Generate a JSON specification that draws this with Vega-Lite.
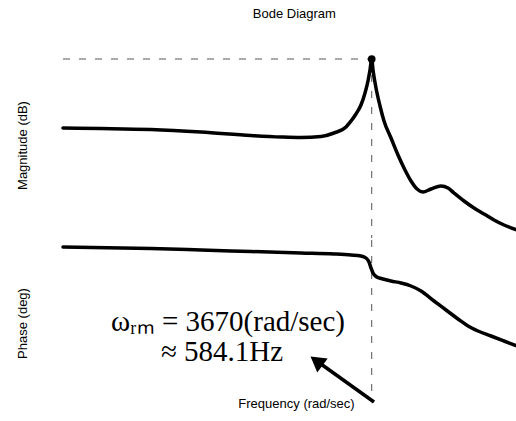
{
  "$schema": "https://vega.github.io/schema/vega-lite/v6.json",
  "padding": {"left": 16, "top": 8, "right": 0, "bottom": 6},
  "background": "white",
  "config": {
    "view": {"stroke": null},
    "font": "Liberation Sans",
    "axis": {"domain": false, "ticks": false, "labels": false, "grid": false, "titleFont": "Liberation Sans", "titleFontWeight": "normal", "titleFontSize": 13, "titleColor": "black"}
  },
  "title": {"text": "Bode Diagram", "anchor": "middle", "dx": 27, "fontSize": 13, "fontWeight": "normal", "font": "Liberation Sans", "color": "black", "offset": 17},
  "datasets": {
    "mag": [
      {"f": 100, "db": 0}, {"f": 155.8, "db": -0.25}, {"f": 279, "db": -0.75}, {"f": 500.6, "db": -2},
      {"f": 897, "db": -3.75}, {"f": 1273, "db": -4.5}, {"f": 1608, "db": -4.75}, {"f": 2031, "db": -4.25},
      {"f": 2363, "db": -2.5}, {"f": 2719, "db": 0.5}, {"f": 2882, "db": 3.5}, {"f": 3055, "db": 7},
      {"f": 3237, "db": 11.5}, {"f": 3394, "db": 17.5}, {"f": 3514, "db": 23.5}, {"f": 3597, "db": 29},
      {"f": 3670, "db": 34.5}, {"f": 3726, "db": 29}, {"f": 3859, "db": 20}, {"f": 4043, "db": 11},
      {"f": 4236, "db": 3.5}, {"f": 4597, "db": -5}, {"f": 4988, "db": -13.5}, {"f": 5412, "db": -21},
      {"f": 5805, "db": -26.5}, {"f": 6228, "db": -30.5}, {"f": 6676, "db": -32}, {"f": 7333, "db": -30.5},
      {"f": 8240, "db": -29}, {"f": 8941, "db": -30}, {"f": 9588, "db": -32.5}, {"f": 10776, "db": -36.5},
      {"f": 12108, "db": -40}, {"f": 13610, "db": -43}, {"f": 15290, "db": -46}, {"f": 17186, "db": -48.5},
      {"f": 20000, "db": -51}
    ],
    "phase": [
      {"f": 100, "deg": 0}, {"f": 279, "deg": -3}, {"f": 500.6, "deg": -6}, {"f": 897, "deg": -9},
      {"f": 1608, "deg": -12}, {"f": 2363, "deg": -14}, {"f": 2882, "deg": -16}, {"f": 3237, "deg": -18},
      {"f": 3433, "deg": -22}, {"f": 3556, "deg": -30}, {"f": 3640, "deg": -42}, {"f": 3726, "deg": -52},
      {"f": 3859, "deg": -59}, {"f": 4187, "deg": -64}, {"f": 4597, "deg": -68}, {"f": 5166, "deg": -72},
      {"f": 5805, "deg": -78}, {"f": 6523, "deg": -88}, {"f": 7593, "deg": -108}, {"f": 8734, "deg": -126},
      {"f": 10046, "deg": -144}, {"f": 11290, "deg": -158}, {"f": 12688, "deg": -168}, {"f": 14767, "deg": -178},
      {"f": 17186, "deg": -188}, {"f": 20000, "deg": -198}
    ]
  },
  "vconcat": [
    {
      "width": 454,
      "height": 200,
      "layer": [
        {
          "data": {"values": [{"f": 100, "f2": 3670, "db": 34.5}]},
          "mark": {"type": "rule", "color": "#555555", "strokeWidth": 1, "strokeDash": [7, 9]},
          "encoding": {
            "x": {"field": "f", "type": "quantitative", "scale": {"type": "log", "domain": [100, 20000], "nice": false}, "axis": null},
            "x2": {"field": "f2"},
            "y": {"field": "db", "type": "quantitative", "scale": {"domain": [-55, 45], "nice": false, "zero": false}, "axis": {"title": "Magnitude (dB)", "titleX": -41, "titleY": 107, "titleBaseline": "middle", "titleAlign": "center"}}
          }
        },
        {
          "data": {"values": [{"f": 3670, "db": 34.5, "db2": -55}]},
          "mark": {"type": "rule", "color": "#555555", "strokeWidth": 1, "strokeDash": [7, 9]},
          "encoding": {
            "x": {"field": "f", "type": "quantitative"},
            "y": {"field": "db", "type": "quantitative"},
            "y2": {"field": "db2"}
          }
        },
        {
          "data": {"name": "mag"},
          "mark": {"type": "line", "color": "black", "strokeWidth": 3.5, "interpolate": "monotone", "strokeCap": "round", "strokeJoin": "round"},
          "encoding": {
            "x": {"field": "f", "type": "quantitative"},
            "y": {"field": "db", "type": "quantitative"}
          }
        },
        {
          "data": {"values": [{"f": 3670, "db": 34.5}]},
          "mark": {"type": "point", "filled": true, "color": "black", "size": 60, "opacity": 1},
          "encoding": {
            "x": {"field": "f", "type": "quantitative"},
            "y": {"field": "db", "type": "quantitative"}
          }
        }
      ]
    },
    {
      "width": 454,
      "height": 160,
      "layer": [
        {
          "data": {"values": [{"f": 3670, "deg": 14, "deg2": -296}]},
          "mark": {"type": "rule", "color": "#555555", "strokeWidth": 1, "strokeDash": [7, 9]},
          "encoding": {
            "x": {"field": "f", "type": "quantitative", "scale": {"type": "log", "domain": [100, 20000], "nice": false}, "axis": {"title": "Frequency  (rad/sec)", "titleX": 233, "titleY": 3, "titleBaseline": "middle", "titleAlign": "center"}},
            "y": {"field": "deg", "type": "quantitative", "scale": {"domain": [-306, 14], "nice": false, "zero": false}, "axis": {"title": "Phase (deg)", "titleX": -41, "titleY": 83, "titleBaseline": "middle", "titleAlign": "center"}},
            "y2": {"field": "deg2"}
          }
        },
        {
          "data": {"name": "phase"},
          "mark": {"type": "line", "color": "black", "strokeWidth": 3.5, "interpolate": "monotone", "strokeCap": "round", "strokeJoin": "round"},
          "encoding": {
            "x": {"field": "f", "type": "quantitative"},
            "y": {"field": "deg", "type": "quantitative"}
          }
        },
        {
          "data": {"values": [{"f": 3769, "deg": -310, "f2": 1980, "deg2": -231}]},
          "mark": {"type": "rule", "color": "black", "strokeWidth": 3.5},
          "encoding": {
            "x": {"field": "f", "type": "quantitative"},
            "y": {"field": "deg", "type": "quantitative"},
            "x2": {"field": "f2"},
            "y2": {"field": "deg2"}
          }
        },
        {
          "data": {"values": [{"f": 1927, "deg": -228}]},
          "mark": {"type": "point", "shape": "triangle-up", "filled": true, "color": "black", "size": 300, "angle": 307, "opacity": 1},
          "encoding": {
            "x": {"field": "f", "type": "quantitative"},
            "y": {"field": "deg", "type": "quantitative"}
          }
        },
        {
          "data": {"values": [{"f": 686, "deg": -150, "label": "ωᵣₘ = 3670(rad/sec)"}]},
          "mark": {"type": "text", "font": "Liberation Serif", "fontSize": 29, "color": "black", "align": "center", "baseline": "middle"},
          "encoding": {
            "x": {"field": "f", "type": "quantitative"},
            "y": {"field": "deg", "type": "quantitative"},
            "text": {"field": "label"}
          }
        },
        {
          "data": {"values": [{"f": 640, "deg": -210, "label": "≈ 584.1Hz"}]},
          "mark": {"type": "text", "font": "Liberation Serif", "fontSize": 29, "color": "black", "align": "center", "baseline": "middle"},
          "encoding": {
            "x": {"field": "f", "type": "quantitative"},
            "y": {"field": "deg", "type": "quantitative"},
            "text": {"field": "label"}
          }
        }
      ]
    }
  ],
  "spacing": 0
}
